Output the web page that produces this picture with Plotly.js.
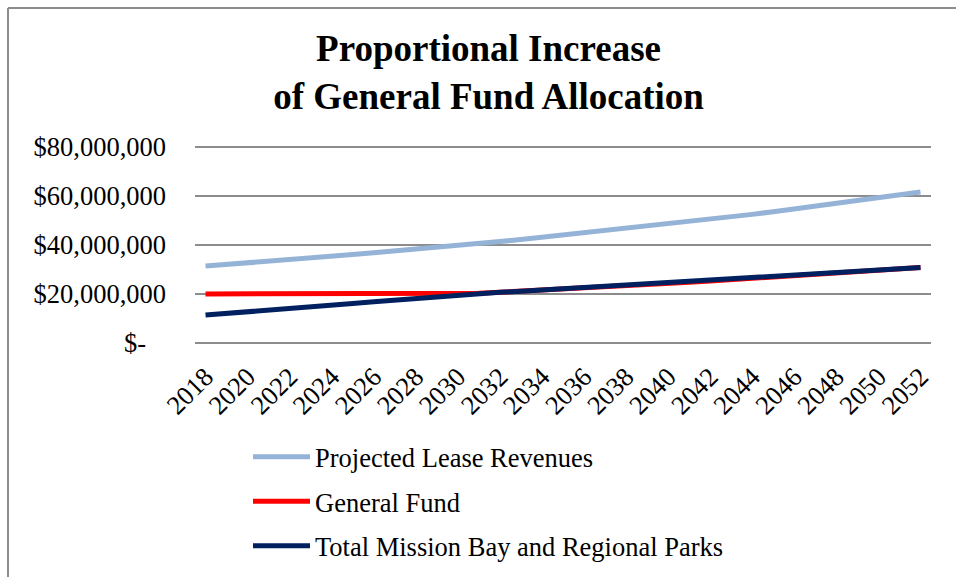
<!DOCTYPE html>
<html>
<head>
<meta charset="utf-8">
<script src="https://cdn.plot.ly/plotly-3.0.1.min.js"></script>
<style>html,body{margin:0;padding:0;background:#fff;}#chart{width:956px;height:577px;}</style>
</head>
<body>
<div id="chart"></div>
<script>
const years = [2018,2019,2020,2021,2022,2023,2024,2025,2026,2027,2028,2029,2030,2031,2032,2033,2034,2035,2036,2037,2038,2039,2040,2041,2042,2043,2044,2045,2046,2047,2048,2049,2050,2051,2052];
const leaseRevenues = [31.4,32.0,32.7,33.3,34.0,34.7,35.4,36.1,36.8,37.5,38.3,39.0,39.8,40.6,41.4,42.2,43.1,44.0,44.8,45.7,46.7,47.6,48.5,49.5,50.5,51.5,52.5,53.6,54.7,55.8,56.9,58.0,59.2,60.3,61.6].map(v => v * 1e6);
const generalFund = [20.0,20.0,20.0,20.0,20.0,20.0,20.0,20.0,20.0,20.0,20.0,20.0,20.0,20.3,20.7,21.1,21.6,22.0,22.4,22.9,23.4,23.8,24.3,24.8,25.3,25.8,26.3,26.8,27.4,27.9,28.5,29.0,29.6,30.2,30.8].map(v => v * 1e6);
const totalMissionBay = [11.4,12.0,12.7,13.3,14.0,14.7,15.4,16.1,16.8,17.5,18.3,19.0,19.8,20.3,20.7,21.1,21.6,22.0,22.4,22.9,23.4,23.8,24.3,24.8,25.3,25.8,26.3,26.8,27.4,27.9,28.5,29.0,29.6,30.2,30.8].map(v => v * 1e6);
const seriesNames = ["Projected Lease Revenues","General Fund","Total Mission Bay and Regional Parks"];
const yTickVals = [0,20e6,40e6,60e6,80e6];
const yTickText = ["$-\u00a0\u00a0\u00a0","$20,000,000","$40,000,000","$60,000,000","$80,000,000"];
const xTickVals = [2018,2020,2022,2024,2026,2028,2030,2032,2034,2036,2038,2040,2042,2044,2046,2048,2050,2052];

const serif = "Liberation Serif";
const L = 195, R = 25, T = 145, B = 232, W = 956, H = 577;
const pw = W - L - R, ph = H - T - B;
const px2x = p => (p - L) / pw;
const py2y = p => (H - B - p) / ph;
const pad = 0.8163e6;

const traces = [
  {x: years, y: leaseRevenues, name: seriesNames[0], legendgroup: "a", mode: "lines", line: {color: "#95B3D7", width: 5}},
  {x: years, y: generalFund, name: seriesNames[1], legendgroup: "b", mode: "lines", line: {color: "#FF0000", width: 5}},
  {x: years, y: totalMissionBay, name: seriesNames[2], legendgroup: "c", mode: "lines", line: {color: "#002060", width: 5}}
];

const layout = {
  width: W, height: H,
  margin: {l: L, r: R, t: T, b: B, pad: 0, autoexpand: false},
  paper_bgcolor: "#fff", plot_bgcolor: "#fff",
  font: {family: serif, color: "#000", size: 26.5},
  title: {text: "<b>Proportional Increase<br>of General Fund Allocation</b>", font: {family: serif, size: 37, color: "#000"}, x: 0.511, xanchor: "center", y: 1 - 61/H, yanchor: "middle", yref: "container"},
  xaxis: {range: [2017.5, 2052.5], tickmode: "array", tickvals: xTickVals, ticktext: xTickVals.map(String), tickangle: -45, showgrid: false, zeroline: false, showline: false, ticks: "", ticklabelstandoff: 10, tickfont: {family: serif, size: 26.5}, fixedrange: true, automargin: false},
  yaxis: {range: [-pad, 80e6 + pad], tickmode: "array", tickvals: yTickVals, ticktext: yTickText, showgrid: true, gridcolor: "#8c8c8c", gridwidth: 2, zeroline: false, showline: false, ticks: "", ticklabelstandoff: 28, tickfont: {family: serif, size: 26.5}, fixedrange: true, automargin: false},
  showlegend: true,
  legend: {orientation: "v", x: px2x(248), xanchor: "left", y: py2y(433), yanchor: "top", font: {family: serif, size: 26.5}, tracegroupgap: 7, bgcolor: "rgba(0,0,0,0)", itemwidth: 57},
  shapes: [
    {type: "line", xref: "paper", yref: "paper", x0: px2x(8), x1: px2x(960), y0: py2y(8), y1: py2y(8), line: {color: "#8c8c8c", width: 2}},
    {type: "line", xref: "paper", yref: "paper", x0: px2x(8), x1: px2x(8), y0: py2y(8), y1: py2y(580), line: {color: "#8c8c8c", width: 2}}
  ]
};

Plotly.newPlot("chart", traces, layout, {displayModeBar: false, staticPlot: true});
</script>
</body>
</html>
